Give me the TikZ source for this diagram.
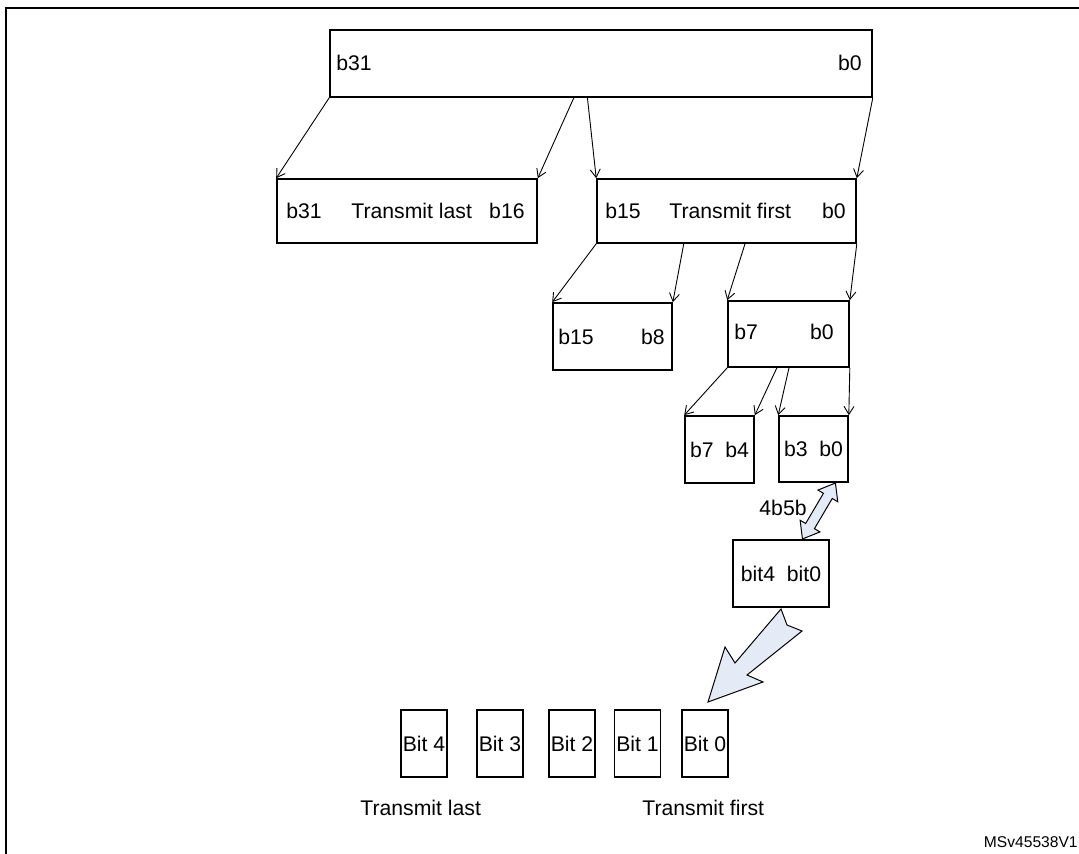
\documentclass[tikz,border=0pt]{standalone}
\usepackage{fontspec}
\setmainfont{Liberation Sans}
\usetikzlibrary{arrows.meta}
\usetikzlibrary{calc}
\usetikzlibrary{shapes.arrows}

\definecolor{arrowfill}{RGB}{228,235,247}

\begin{document}
\begin{tikzpicture}[x=0.5pt, y=-0.5pt,
    every node/.style={font=\fontsize{10.6}{12}\selectfont, inner sep=0pt},
    wordbox/.style={draw, line width=0.8pt},
    split/.style={->, line width=0.45pt, >={Straight Barb[length=4pt,width=5pt]}},
    fatarrow/.style={draw, line width=0.5pt, fill=arrowfill},
]
\useasboundingbox (0,0) rectangle (1079,854);
\draw[line width=1.2pt] (6,854) -- (6,8) -- (1079,8);

% 32 bit word
\node[wordbox, minimum width=271pt, minimum height=33.5pt] (word) at (601,63.5) {};
\node[anchor=west] (wordhi) at (336,63) {b31};
\node[anchor=east] (wordlo) at (862,63) {b0};

% half words
\node[wordbox, minimum width=130pt, minimum height=32pt] (last) at (407,211) {};
\node[anchor=west] (lasthi) at (286,211) {b31};
\node[anchor=west] (lasttext) at (351,211) {Transmit last};
\node[anchor=east] (lastlo) at (525,211) {b16};

\node[wordbox, minimum width=129.5pt, minimum height=32pt] (first) at (726.5,211) {};
\node[anchor=west] (firsthi) at (605,211) {b15};
\node[anchor=west] (firsttext) at (669,211) {Transmit first};
\node[anchor=east] (firstlo) at (846,211) {b0};

\draw[split] (word.south west) -- (last.north west);
\draw[split] ($(word.south west)!0.45!(word.south east)$) -- (last.north east);
\draw[split] ($(word.south west)!0.475!(word.south east)$) -- (first.north west);
\draw[split] (word.south east) -- (first.north east);

% bytes
\node[wordbox, minimum width=59.5pt, minimum height=33.5pt] (hibyte) at (612.5,336.5) {};
\node[anchor=west] (hibytehi) at (558,337) {b15};
\node[anchor=east] (hibytelo) at (665,337) {b8};

\node[wordbox, minimum width=60.5pt, minimum height=33pt] (lobyte) at (788.5,334) {};
\node[anchor=west] (lobytehi) at (734,332) {b7};
\node[anchor=east] (lobytelo) at (834,332) {b0};

\draw[split] (first.south west) -- (hibyte.north west);
\draw[split] ($(first.south west)!0.336!(first.south east)$) -- (hibyte.north east);
\draw[split] ($(first.south west)!0.571!(first.south east)$) -- (lobyte.north west);
\draw[split] (first.south east) -- (lobyte.north east);

% nibbles
\node[wordbox, minimum width=34.5pt, minimum height=33.5pt] (hinib) at (719.5,449.5) {b7\ \ b4};
\node[wordbox, minimum width=34.5pt, minimum height=33pt] (lonib) at (813.5,449) {b3\ \ b0};

\draw[split] (lobyte.south west) -- (hinib.north west);
\draw[split] ($(lobyte.south west)!0.405!(lobyte.south east)$) -- (hinib.north east);
\draw[split] ($(lobyte.south west)!0.504!(lobyte.south east)$) -- (lonib.north west);
\draw[split] (lobyte.south east) -- (lonib.north east);

% 4b5b symbol
\node[wordbox, minimum width=48pt, minimum height=33.5pt] (sym) at (781,573.5) {bit4\ \ bit0};

\coordinate (enctop) at ($(lonib.south west)!0.81!(lonib.south east)$);
\coordinate (encbot) at ($(sym.north west)!0.72!(sym.north east)$);
\node[fatarrow, double arrow, inner xsep=0pt, inner ysep=2.3pt, minimum height=32.5pt,
      double arrow head extend=3.2pt, double arrow tip angle=75, rotate=59.5]
      (enc) at ($(enctop)!0.5!(encbot)$) {};
\node[anchor=east] (enclabel) at (807,508) {4b5b};

% serial output
\draw[fatarrow] (781,609) -- (787,625) -- (802,631) -- (747,675) -- (763,682)
    -- (708,702) -- (725,647) -- (735,663) -- cycle;

\foreach \x/\n in {424/4, 500/3, 572/2, 637.5/1, 705/0}
    \node[wordbox, minimum width=23pt, minimum height=33.5pt] (bit\n) at (\x,743.5) {Bit \n};

\node[anchor=west] (lastlabel) at (360,808) {Transmit last};
\node[anchor=west] (firstlabel) at (642,808) {Transmit first};
\node[anchor=east, font=\fontsize{7.8}{9}\selectfont] (figid) at (1078,842) {MSv45538V1};
\end{tikzpicture}
\end{document}
